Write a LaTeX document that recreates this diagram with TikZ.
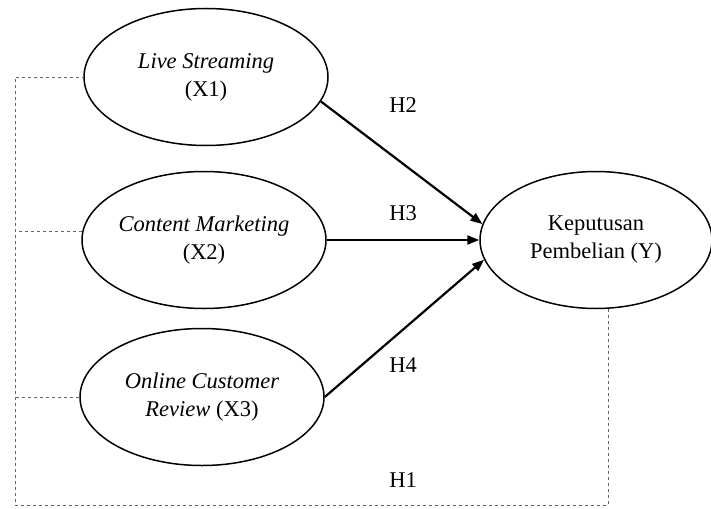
\documentclass[tikz,border=0pt]{standalone}
\usepackage{fontspec}
\setmainfont{Liberation Serif}
\usetikzlibrary{arrows.meta,positioning,shapes.geometric}

\begin{document}
\begin{tikzpicture}[x=1pt, y=-1pt,
    latent/.style={ellipse, draw, line width=1.5pt,
                   minimum width=244pt, minimum height=137pt, inner sep=0pt,
                   align=center, font=\fontsize{22.5}{28}\selectfont},
    path/.style={-{Triangle[length=12pt, width=9pt]}, line width=2.2pt},
    link/.style={draw=black!60, line width=0.9pt, dash pattern=on 3pt off 3pt},
    hyp/.style={font=\fontsize{22.5}{28}\selectfont}
  ]
  \useasboundingbox (0,0) rectangle (711,508);

  % Exogenous variables
  \node[latent] (ls)  at (206,77)  {\textit{Live Streaming}\\(X1)};
  \node[latent] (cm)  at (204,240) {\textit{Content Marketing}\\(X2)};
  \node[latent] (ocr) at (202,397) {\textit{Online Customer}\\\textit{Review} (X3)};

  % Endogenous variable
  \node[latent, minimum width=232pt] (kp) at (596,240) {Keputusan\\Pembelian (Y)};

  % Partial effects
  \draw[path] (ls.-12)   -- (kp.172);
  \draw[path] (cm)       -- (kp);
  \draw[path] (ocr.east) -- (kp.190);

  \node[hyp] (h2) at (403,105) {H2};
  \node[hyp] (h3) at (403,213) {H3};
  \node[hyp] (h4) at (403,365) {H4};
  \node[hyp] (h1) at (403,480) {H1};

  % Simultaneous effect
  \coordinate (bus) at (15,505);
  \draw[link] (kp.-80) |- (bus) |- (ls.west);
  \draw[link] (cm.176) -- (cm.176 -| bus);
  \draw[link] (ocr.west) -- (ocr.west -| bus);
\end{tikzpicture}
\end{document}
